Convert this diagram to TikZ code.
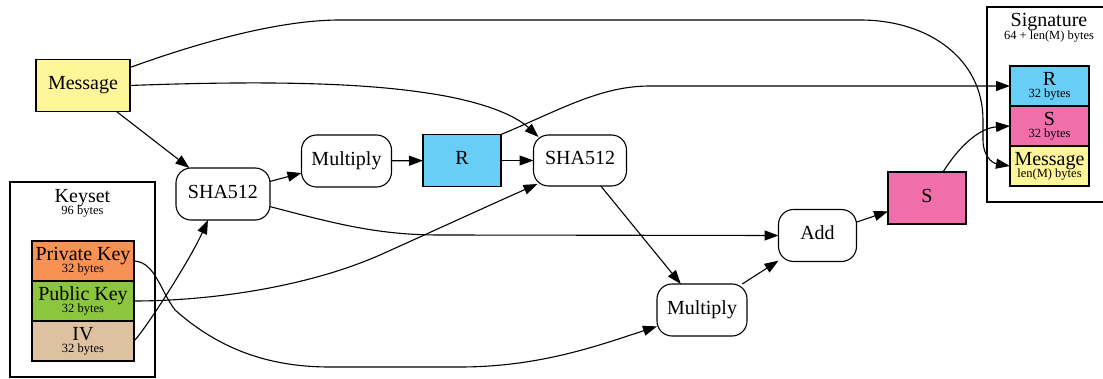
\documentclass[tikz,border=0pt]{standalone}
\usepackage{fontspec}
\setmainfont{Liberation Serif}
\usetikzlibrary{arrows.meta}

\definecolor{msgyellow}{RGB}{255,246,153}
\definecolor{rblue}{RGB}{104,206,246}
\definecolor{spink}{RGB}{240,110,170}
\definecolor{pkorange}{RGB}{247,145,84}
\definecolor{pubgreen}{RGB}{140,198,63}
\definecolor{ivtan}{RGB}{222,193,160}

\tikzset{
  every node/.style={inner sep=0pt, outer sep=0pt},
  lbl/.style={font=\fontsize{20}{24}\selectfont, text height=13.5pt, text depth=4.5pt},
  opbox/.style={draw=black, line width=1.1pt, rounded corners=15pt, fill=white,
                minimum height=52pt, lbl},
  databox/.style={draw=black, line width=1.1pt, minimum height=52pt, lbl},
  cell/.style={draw=black, line width=1.1pt, minimum height=40pt},
  cluster/.style={draw=black, line width=1.1pt},
  big/.style={font=\fontsize{20}{24}\selectfont, anchor=base},
  small/.style={font=\fontsize{12.5}{15}\selectfont, anchor=base},
  flow/.style={line width=1.1pt, -{Triangle[length=14pt,width=10pt]}},
}

\begin{document}
\begin{tikzpicture}[x=1pt,y=-1pt]
\fill[white] (0,0) rectangle (1103,379);
\useasboundingbox (0,0) rectangle (1103,379);

% keyset cluster
\node[cluster, minimum width=145pt, minimum height=195pt] (keyset) at (82.5,279.5) {};
\node[big] (keyset-title) at (82.5,203) {Keyset};
\node[small] (keyset-size) at (82.5,215) {96 bytes};
\node[cell, fill=pkorange, minimum width=102pt] (pk) at (83,261) {};
\node[cell, fill=pubgreen, minimum width=102pt] (pub) at (83,301) {};
\node[cell, fill=ivtan, minimum width=102pt] (iv) at (83,341) {};
\node[big] (pk-name) at (83,260.5) {Private Key};
\node[small] (pk-size) at (83,272.5) {32 bytes};
\node[big] (pub-name) at (83,300.5) {Public Key};
\node[small] (pub-size) at (83,312.5) {32 bytes};
\node[big] (iv-name) at (83,340.5) {IV};
\node[small] (iv-size) at (83,352.5) {32 bytes};

% signature cluster
\node[cluster, minimum width=125pt, minimum height=195pt] (signature) at (1049.5,104.5) {};
\node[big] (sig-title) at (1049,27) {Signature};
\node[small] (sig-size) at (1049,40) {64 + len(M) bytes};
\node[cell, fill=rblue, minimum width=79pt] (sigR) at (1049.5,86) {};
\node[cell, fill=spink, minimum width=79pt] (sigS) at (1049.5,126) {};
\node[cell, fill=msgyellow, minimum width=79pt] (sigM) at (1049.5,166) {};
\node[big] (sigR-name) at (1049.5,85.5) {R};
\node[small] (sigR-size) at (1049.5,97.5) {32 bytes};
\node[big] (sigS-name) at (1049.5,125.5) {S};
\node[small] (sigS-size) at (1049.5,137.5) {32 bytes};
\node[big] (sigM-name) at (1049.5,165.5) {Message};
\node[small] (sigM-size) at (1049.5,177.5) {len(M) bytes};

% data and operation nodes
\node[databox, fill=msgyellow, minimum width=94pt] (msg) at (83,85.5) {Message};
\node[opbox, minimum width=94pt] (sha1) at (223,194) {SHA512};
\node[opbox, minimum width=90pt] (mul1) at (346.5,161) {Multiply};
\node[databox, fill=rblue, minimum width=78pt] (rnode) at (462,160.5) {R};
\node[opbox, minimum width=93pt, minimum height=51pt] (sha2) at (580,160.5) {SHA512};
\node[opbox, minimum width=90pt] (mul2) at (702,310) {Multiply};
\node[opbox, minimum width=78pt] (add) at (817.5,235.5) {Add};
\node[databox, fill=spink, minimum width=78pt] (snode) at (927,198) {S};

% connectors
\draw[flow] (msg) -- (sha1);
\draw[flow] (msg.east) .. controls (250,81) and (350,82) .. (420,92)
  .. controls (480,100) and (515,115) .. ([shift={(5,2)}]sha2.north west);
\draw[flow] ([shift={(0,8)}]msg.north east) .. controls (220,35) and (290,20) .. (340,20)
  -- (860,20) .. controls (930,20) and (983,60) .. (983,120) -- (983,140)
  .. controls (983,156) and (992,163) .. (sigM.west);
\draw[flow] (sha1) -- (mul1);
\draw[flow] (mul1) -- (rnode);
\draw[flow] (rnode) -- (sha2);
\draw[flow] (rnode.north east) .. controls (560,110) and (600,86) .. (650,86)
  -- (sigR.west);
\draw[flow] (sha1.-15) .. controls (340,225) and (380,235) .. (440,235) -- (add.west);
\draw[flow] (sha2) -- (mul2);
\draw[flow] (mul2) -- (add);
\draw[flow] (add) -- (snode);
\draw[flow] ([shift={(16,0)}]snode.north) .. controls (960,145) and (980,128) .. (sigS.west);
\draw[flow] (pk.east) .. controls (155,262) and (160,290) .. (175,310)
  .. controls (220,350) and (270,367) .. (330,367) -- (460,367)
  .. controls (540,367) and (600,345) .. (mul2.200);
\draw[flow] (pub.east) .. controls (200,301) and (300,290) .. (380,255)
  .. controls (440,228) and (490,205) .. ([shift={(4,-2)}]sha2.south west);
\draw[flow] (iv.east) .. controls (145,330) and (190,260) .. ([shift={(-15,0)}]sha1.south);
\end{tikzpicture}
\end{document}
